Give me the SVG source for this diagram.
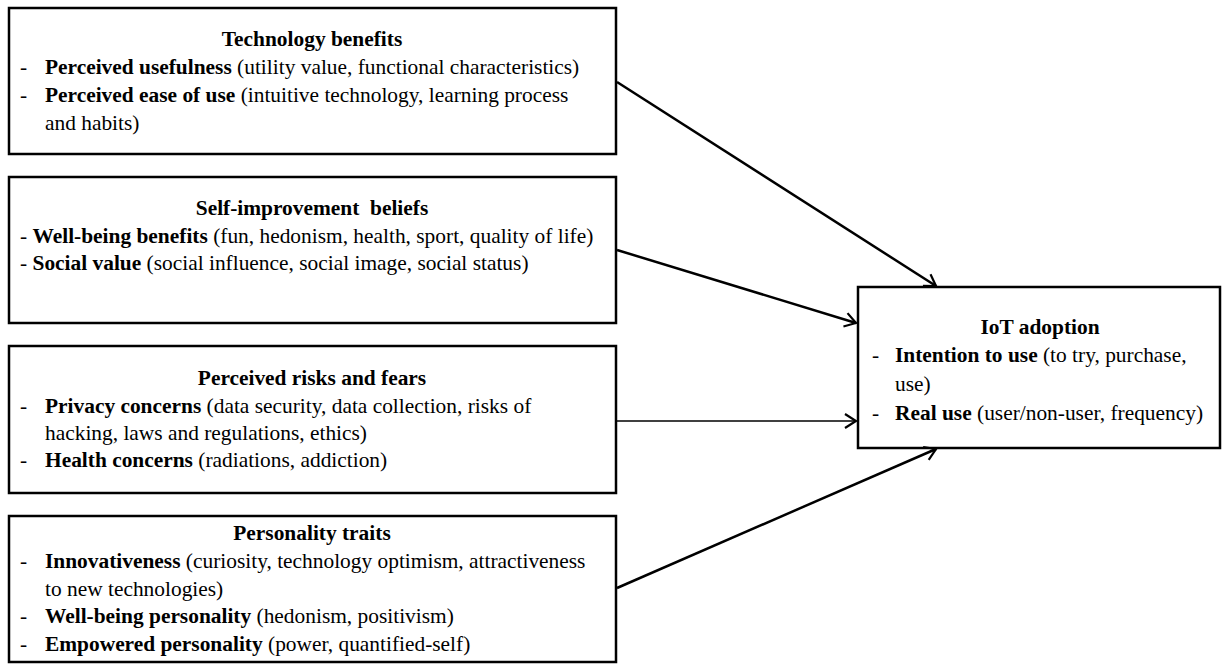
<svg xmlns="http://www.w3.org/2000/svg" width="1222" height="664" viewBox="0 0 1222 664">
  <style>
    .box { fill: #ffffff; stroke: #000000; stroke-width: 2.5; }
    text { font-size: 21.4px; fill: #000000; }
    .title { font-weight: bold; text-anchor: middle; }
    .b { font-weight: bold; }
    .conn { stroke: #000000; stroke-width: 2.5; fill: none; }
    .thin { stroke-width: 1.5; }
  </style>
  <defs>
    <marker id="arrow" markerUnits="userSpaceOnUse" markerWidth="24" markerHeight="24" refX="0" refY="0" viewBox="-14 -12 16 24" orient="auto" overflow="visible">
      <path d="M -11 -7 L 0 0 L -11 7" fill="none" stroke="#000000" stroke-width="2.2" stroke-linejoin="miter"/>
    </marker>
  </defs>

  <rect width="1222" height="664" fill="#ffffff"/>

  <g font-family="Liberation Serif, Times New Roman, serif">
  <!-- Factor: technology benefits -->
  <g id="technology-benefits">
    <rect class="box" x="9" y="8" width="607" height="146"/>
    <text class="title" x="312" y="46">Technology benefits</text>
    <text x="20" y="74">-</text>
    <text x="45" y="74"><tspan class="b">Perceived usefulness</tspan> (utility value, functional characteristics)</text>
    <text x="20" y="102">-</text>
    <text x="45" y="102"><tspan class="b">Perceived ease of use</tspan> (intuitive technology, learning process</text>
    <text x="45" y="130">and habits)</text>
  </g>

  <!-- Factor: self-improvement beliefs -->
  <g id="self-improvement-beliefs">
    <rect class="box" x="9" y="177" width="607" height="146"/>
    <text class="title" x="312" y="215" xml:space="preserve">Self-improvement  beliefs</text>
    <text x="20" y="243">- <tspan class="b">Well-being benefits</tspan> (fun, hedonism, health, sport, quality of life)</text>
    <text x="20" y="270">- <tspan class="b">Social value</tspan> (social influence, social image, social status)</text>
  </g>

  <!-- Factor: perceived risks and fears -->
  <g id="perceived-risks">
    <rect class="box" x="9" y="346" width="607" height="147"/>
    <text class="title" x="312" y="385">Perceived risks and fears</text>
    <text x="20" y="413">-</text>
    <text x="45" y="413"><tspan class="b">Privacy concerns</tspan> (data security, data collection, risks of</text>
    <text x="45" y="440">hacking, laws and regulations, ethics)</text>
    <text x="20" y="467">-</text>
    <text x="45" y="467"><tspan class="b">Health concerns</tspan> (radiations, addiction)</text>
  </g>

  <!-- Factor: personality traits -->
  <g id="personality-traits">
    <rect class="box" x="9" y="516" width="607" height="146"/>
    <text class="title" x="312" y="540">Personality traits</text>
    <text x="20" y="568">-</text>
    <text x="45" y="568"><tspan class="b">Innovativeness</tspan> (curiosity, technology optimism, attractiveness</text>
    <text x="45" y="596">to new technologies)</text>
    <text x="20" y="623">-</text>
    <text x="45" y="623"><tspan class="b">Well-being personality</tspan> (hedonism, positivism)</text>
    <text x="20" y="651">-</text>
    <text x="45" y="651"><tspan class="b">Empowered personality</tspan> (power, quantified-self)</text>
  </g>

  <!-- Outcome: IoT adoption -->
  <g id="iot-adoption">
    <rect class="box" x="858" y="287" width="362" height="161"/>
    <text class="title" x="1040" y="334">IoT adoption</text>
    <text x="872" y="362">-</text>
    <text x="895" y="362"><tspan class="b">Intention to use</tspan> (to try, purchase,</text>
    <text x="895" y="391">use)</text>
    <text x="872" y="420">-</text>
    <text x="895" y="420"><tspan class="b">Real use</tspan> (user/non-user, frequency)</text>
  </g>
  </g>

  <!-- Connectors into the outcome box -->
  <g id="connectors">
    <line class="conn" x1="617" y1="82" x2="936" y2="286" marker-end="url(#arrow)"/>
    <line class="conn" x1="617" y1="250" x2="856" y2="323" marker-end="url(#arrow)"/>
    <line class="conn thin" x1="617" y1="421" x2="856" y2="421" marker-end="url(#arrow)"/>
    <line class="conn" x1="617" y1="588" x2="936" y2="449" marker-end="url(#arrow)"/>
  </g>
</svg>
